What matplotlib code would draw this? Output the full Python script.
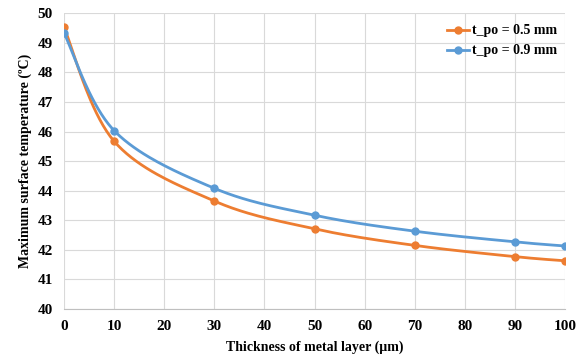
import numpy as np
import matplotlib
matplotlib.use("Agg")
import matplotlib.pyplot as plt

thickness = [0, 10, 30, 50, 70, 90, 100]
temp_05 = [49.52, 45.67, 43.65, 42.71, 42.15, 41.77, 41.63]
temp_09 = [49.33, 46.03, 44.08, 43.17, 42.63, 42.27, 42.13]
labels = ["t_po = 0.5 mm", "t_po = 0.9 mm"]
colors = ["#ED7D31", "#5B9BD5"]

plt.rcParams['font.family'] = ['Liberation Serif', 'DejaVu Serif']
plt.rcParams['font.weight'] = 'bold'

fig = plt.figure(figsize=(5.82, 3.56), dpi=100)
ax = fig.add_axes([0.110, 0.132, 0.861, 0.831])

def smooth(x, y, sx=5.01, sy=29.6, n=40):
    # Catmull-Rom style Bezier smoothing in screen-scaled space (like Excel smoothed lines)
    P = np.column_stack([np.asarray(x, float) * sx, np.asarray(y, float) * sy])
    pts = []
    m = len(P)
    for i in range(m - 1):
        p0 = P[i - 1] if i > 0 else P[i]
        p1 = P[i]
        p2 = P[i + 1]
        p3 = P[i + 2] if i + 2 < m else P[i + 1]
        c1 = p1 + (p2 - p0) / 6.0
        c2 = p2 - (p3 - p1) / 6.0
        t = np.linspace(0, 1, n)[:, None]
        b = (1 - t) ** 3 * p1 + 3 * (1 - t) ** 2 * t * c1 + 3 * (1 - t) * t ** 2 * c2 + t ** 3 * p2
        pts.append(b if i == 0 else b[1:])
    pts = np.vstack(pts)
    return pts[:, 0] / sx, pts[:, 1] / sy

for ys, lab, c in zip([temp_05, temp_09], labels, colors):
    sxv, syv = smooth(thickness, ys)
    ax.plot(sxv, syv, color=c, lw=2.0, zorder=3)
    ax.plot(thickness, ys, 'o', color=c, ms=5, zorder=4)
    ax.plot([], [], '-o', color=c, lw=2.0, ms=5, label=lab)

ax.set_xlim(0, 100)
ax.set_ylim(40, 50)
ax.set_xticks(np.arange(0, 101, 10))
ax.set_yticks(np.arange(40, 51, 1))
ax.grid(True, color="#D9D9D9", lw=0.8)
ax.set_axisbelow(True)
for s in ['top', 'right', 'left']:
    ax.spines[s].set_visible(False)
ax.spines['bottom'].set_color("#BFBFBF")
ax.tick_params(length=0, labelsize=11, pad=8)
for t in ax.get_xticklabels() + ax.get_yticklabels():
    t.set_fontweight('bold')

ax.set_xlabel("Thickness of metal layer (µm)", fontsize=10, fontweight='bold', labelpad=5)
ax.set_ylabel("Maximum surface temperature (ºC)", fontsize=10, fontweight='bold', labelpad=4)

leg = ax.legend(loc='upper right', frameon=False, fontsize=10, handlelength=1.6,
                handletextpad=0.2, borderaxespad=0.2, labelspacing=0.5,
                bbox_to_anchor=(1.0, 0.99))
for t in leg.get_texts():
    t.set_fontweight('bold')

fig.savefig("out.png", dpi=100)
